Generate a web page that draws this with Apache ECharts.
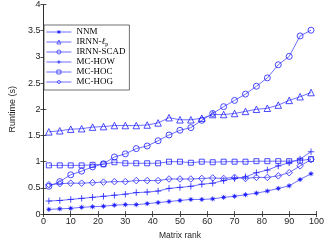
<!DOCTYPE html>
<html><head><meta charset="utf-8">
<script src="https://cdn.jsdelivr.net/npm/echarts@6/dist/echarts.min.js"></script>
<style>html,body{margin:0;padding:0;background:#fff}#c{width:327px;height:245px}</style>
</head><body><div id="c"></div>
<script>
const ranks = [2,6,10,14,18,22,26,30,34,38,42,46,50,54,58,62,66,70,74,78,82,86,90,94,98];
const nnm   = [0.09,0.10,0.11,0.13,0.14,0.15,0.17,0.18,0.18,0.20,0.22,0.24,0.26,0.28,0.28,0.29,0.32,0.34,0.37,0.40,0.44,0.49,0.54,0.66,0.77];
const irnnLp = [1.57,1.59,1.62,1.63,1.66,1.67,1.69,1.69,1.69,1.70,1.74,1.84,1.80,1.80,1.83,1.90,1.90,1.92,1.96,2.00,2.02,2.08,2.17,2.24,2.32];
const irnnScad = [0.53,0.62,0.75,0.82,0.90,0.96,1.09,1.15,1.25,1.30,1.40,1.51,1.60,1.65,1.79,1.92,2.05,2.17,2.29,2.44,2.60,2.85,3.01,3.40,3.51];
const mcHow = [0.25,0.26,0.28,0.30,0.32,0.34,0.36,0.38,0.41,0.42,0.44,0.49,0.51,0.53,0.57,0.59,0.64,0.68,0.71,0.79,0.84,0.92,0.98,1.05,1.19];
const mcHoc = [0.93,0.93,0.93,0.93,0.94,0.95,0.99,0.97,0.97,0.97,0.97,1.00,1.00,0.98,1.00,0.99,1.00,1.00,1.00,1.01,1.01,1.01,1.01,1.02,1.05];
const mcHog = [0.56,0.58,0.59,0.59,0.60,0.61,0.62,0.62,0.64,0.64,0.64,0.67,0.67,0.67,0.68,0.69,0.68,0.70,0.68,0.70,0.70,0.73,0.79,0.92,1.04];
const names = ['NNM','IRNN-lp','IRNN-SCAD','MC-HOW','MC-HOC','MC-HOG'];
const xTicks = {min:0, max:100, interval:10};
const yTicks = {min:0, max:4, interval:0.5};

const BLUE = '#1f1fff';
const LINE = '#4a4aff';
function pairs(v){ return ranks.map((r,i)=>[r,v[i]]); }
function mk(name, data, symbol, size, filled){
  return {
    name, type:'line', data:pairs(data), symbol, symbolSize:size,
    showSymbol:true, animation:false,
    lineStyle:{color:LINE, width:0.8},
    itemStyle:{color: filled ? BLUE : 'rgba(255,255,255,0)', borderColor:BLUE, borderWidth:0.8},
    emphasis:{disabled:true}
  };
}
const star = 'path://M0,-10L0,10M-10,0L10,0M-7,-7L7,7M-7,7L7,-7M-3,-3L3,-3L3,3L-3,3Z';
const plus = 'path://M0,-10L0,10M-10,0L10,0';
const tri = 'path://M0,-10L9,6L-9,6Z';
const diam = 'path://M0,-10L7,0L0,10L-7,0Z';

const chart = echarts.init(document.getElementById('c'), null, {renderer:'canvas'});
const axCol = '#262626';
chart.setOption({
  backgroundColor:'#fff',
  animation:false,
  grid:{left:28, right:9, top:4, bottom:25},
  legend:{
    orient:'vertical', left:44, top:25,
    data:names,
    backgroundColor:'#fff', borderColor:'#333', borderWidth:0.7,
    padding:[2,4,3,2], itemGap:0, itemWidth:25, itemHeight:5,
    lineStyle:{width:0.8, color:LINE},
    itemStyle:{borderWidth:0.7},
    textStyle:{fontFamily:'Liberation Serif', fontSize:9, color:'#000', lineHeight:10,
      rich:{i:{fontFamily:'Liberation Serif', fontStyle:'italic', fontSize:9, color:'#000', lineHeight:10},
            s:{fontFamily:'Liberation Serif', fontSize:6, color:'#000', lineHeight:10, verticalAlign:'bottom', padding:[3,0,0,0]}}},
    formatter: n => n==='IRNN-lp' ? 'IRNN-{i|ℓ}{s|p}' : n
  },
  xAxis:[
    {type:'value', ...xTicks, position:'bottom', name:'Matrix rank', nameLocation:'middle', nameGap:14,
     nameTextStyle:{fontFamily:'Liberation Sans', fontSize:8.5, color:axCol},
     axisLine:{lineStyle:{color:axCol, width:0.8}}, axisTick:{inside:true, length:3, lineStyle:{color:axCol,width:0.8}},
     axisLabel:{fontFamily:'Liberation Sans', fontSize:9, color:axCol, margin:3}, splitLine:{show:false}},
    {type:'value', ...xTicks, position:'top',
     axisLine:{lineStyle:{color:axCol, width:0.8}}, axisTick:{inside:true, length:3, lineStyle:{color:axCol,width:0.8}},
     axisLabel:{show:false}, splitLine:{show:false}}
  ],
  yAxis:[
    {type:'value', ...yTicks, position:'left', name:'Runtime (s)', nameLocation:'middle', nameGap:20,
     nameTextStyle:{fontFamily:'Liberation Sans', fontSize:9, color:axCol},
     axisLine:{show:true, lineStyle:{color:axCol, width:0.8}}, axisTick:{show:true, inside:true, length:3, lineStyle:{color:axCol,width:0.8}},
     axisLabel:{fontFamily:'Liberation Sans', fontSize:9, color:axCol, margin:3}, splitLine:{show:false}},
    {type:'value', ...yTicks, position:'right',
     axisLine:{show:true, lineStyle:{color:axCol, width:0.8}}, axisTick:{show:true, inside:true, length:3, lineStyle:{color:axCol,width:0.8}},
     axisLabel:{show:false}, splitLine:{show:false}}
  ],
  series:[
    mk('NNM', nnm, star, 5, true),
    mk('IRNN-lp', irnnLp, tri, 6.5, false),
    mk('IRNN-SCAD', irnnScad, 'circle', 6, false),
    mk('MC-HOW', mcHow, plus, 6.5, false),
    mk('MC-HOC', mcHoc, 'rect', 5, false),
    mk('MC-HOG', mcHog, diam, 6.5, false)
  ]
});
</script></body></html>
